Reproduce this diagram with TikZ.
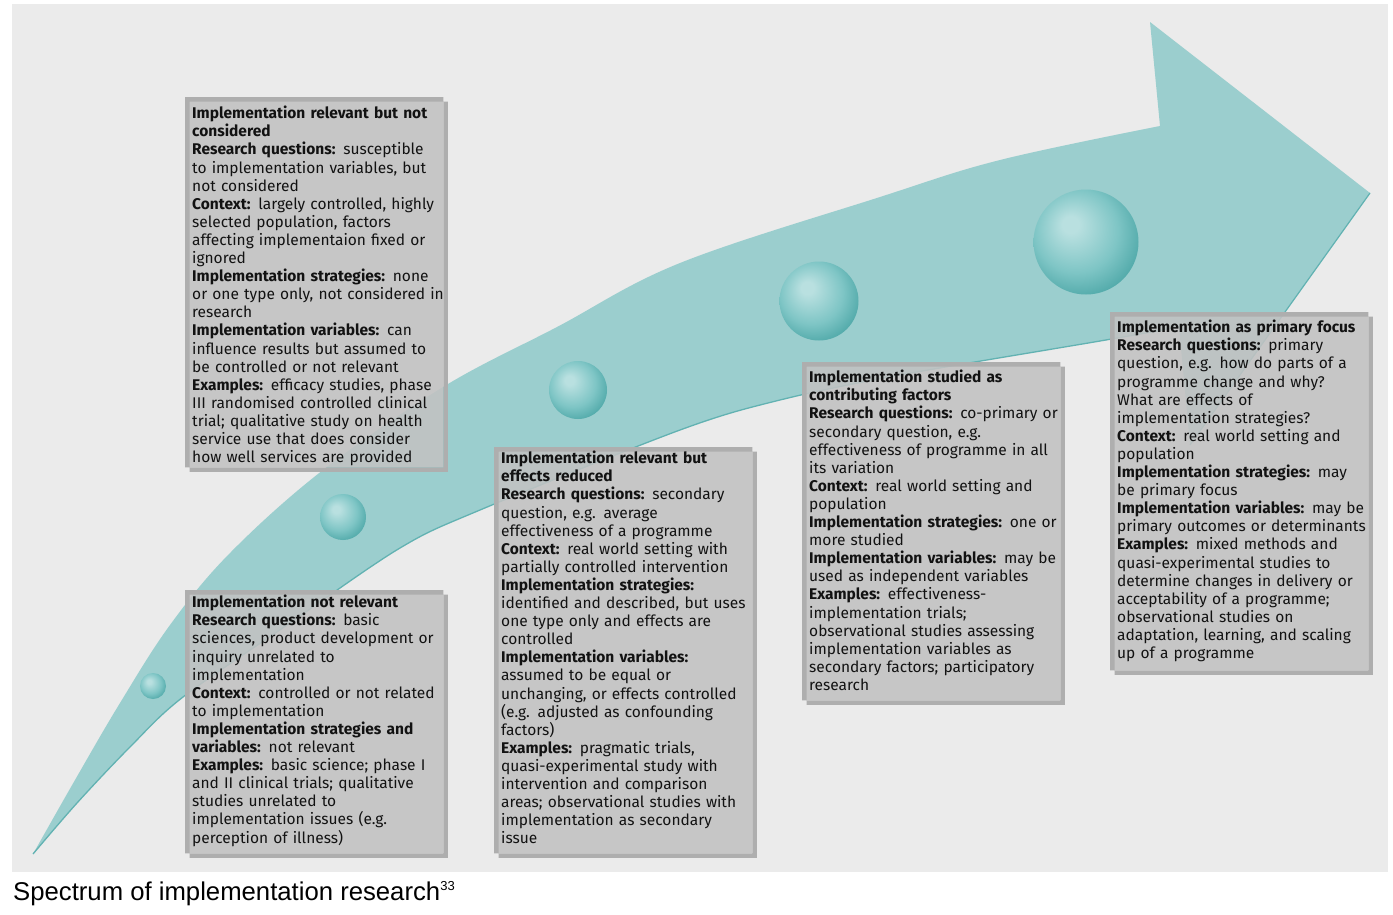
\documentclass[tikz,border=0pt]{standalone}
\usepackage{fontspec}
\setmainfont{Fira Sans}
\newfontfamily\capfont{Liberation Sans}
\usetikzlibrary{calc}
\definecolor{panel}{HTML}{EBEBEB}
\definecolor{band}{HTML}{9BCECE}
\definecolor{bandedge}{HTML}{62B2B2}
\definecolor{boxc}{HTML}{C2C2C2}
\definecolor{shad}{HTML}{AEAEAE}
\definecolor{sphL}{HTML}{B9E0E0}
\definecolor{sphM}{HTML}{7EC5C5}
\definecolor{sphD}{HTML}{45A2A2}
\definecolor{txt}{HTML}{121212}
\pgfdeclareradialshading{sphere}{\pgfpoint{-8bp}{9bp}}{color(0bp)=(sphL); color(4bp)=(sphL); color(20bp)=(sphM); color(33bp)=(sphD); color(50bp)=(sphD)}
\pgfdeclarelayer{bg}\pgfdeclarelayer{boxbg}\pgfsetlayers{bg,boxbg,main}
\newcommand{\hd}[1]{\textbf{#1}}
\begin{document}
\begin{tikzpicture}[x=1pt,y=-1pt,
  infotext/.style={anchor=north west, align=left, inner sep=0pt,
    text width=275pt, text=txt, font=\fontsize{15.5}{18.1}\selectfont},
  boxshape/.style={anchor=north west, rectangle, inner sep=0pt, fill=boxc, fill opacity=0.88},
  ball/.style={circle, inner sep=0pt, shading=sphere, minimum size=#1}]
\useasboundingbox (0,0) rectangle (1393,914);

% texts
\node[infotext] (t1) at (192,106) {%
\hd{Implementation relevant but not}\\
\hd{considered}\\
\hd{Research questions:} susceptible\\
to implementation variables, but\\
not considered\\
\hd{Context:} largely controlled, highly\\
selected population, factors\\
affecting implementaion fixed or\\
ignored\\
\hd{Implementation strategies:} none\\
or one type only, not considered in\\
research\\
\hd{Implementation variables:} can\\
influence results but assumed to\\
be controlled or not relevant\\
\hd{Examples:} efficacy studies, phase\\
III randomised controlled clinical\\
trial; qualitative study on health\\
service use that does consider\\
how well services are provided};

\node[infotext] (t2) at (192,595) {%
\hd{Implementation not relevant}\\
\hd{Research questions:} basic\\
sciences, product development or\\
inquiry unrelated to\\
implementation\\
\hd{Context:} controlled or not related\\
to implementation\\
\hd{Implementation strategies and}\\
\hd{variables:} not relevant\\
\hd{Examples:} basic science; phase I\\
and II clinical trials; qualitative\\
studies unrelated to\\
implementation issues (e.g.\\
perception of illness)};

\node[infotext] (t3) at (501,451) {%
\hd{Implementation relevant but}\\
\hd{effects reduced}\\
\hd{Research questions:} secondary\\
question, e.g. average\\
effectiveness of a programme\\
\hd{Context:} real world setting with\\
partially controlled intervention\\
\hd{Implementation strategies:}\\
identified and described, but uses\\
one type only and effects are\\
controlled\\
\hd{Implementation variables:}\\
assumed to be equal or\\
unchanging, or effects controlled\\
(e.g. adjusted as confounding\\
factors)\\
\hd{Examples:} pragmatic trials,\\
quasi-experimental study with\\
intervention and comparison\\
areas; observational studies with\\
implementation as secondary\\
issue};

\node[infotext] (t4) at (809,370) {%
\hd{Implementation studied as}\\
\hd{contributing factors}\\
\hd{Research questions:} co-primary or\\
secondary question, e.g.\\
effectiveness of programme in all\\
its variation\\
\hd{Context:} real world setting and\\
population\\
\hd{Implementation strategies:} one or\\
more studied\\
\hd{Implementation variables:} may be\\
used as independent variables\\
\hd{Examples:} effectiveness-\\
implementation trials;\\
observational studies assessing\\
implementation variables as\\
secondary factors; participatory\\
research};

\node[infotext] (t5) at (1117,320) {%
\hd{Implementation as primary focus}\\
\hd{Research questions:} primary\\
question, e.g. how do parts of a\\
programme change and why?\\
What are effects of\\
implementation strategies?\\
\hd{Context:} real world setting and\\
population\\
\hd{Implementation strategies:} may\\
be primary focus\\
\hd{Implementation variables:} may be\\
primary outcomes or determinants\\
\hd{Examples:} mixed methods and\\
quasi-experimental studies to\\
determine changes in delivery or\\
acceptability of a programme;\\
observational studies on\\
adaptation, learning, and scaling\\
up of a programme};

\node[anchor=base west, inner sep=0pt, font=\capfont\fontsize{25.7}{30}\selectfont] (cap) at (13,900)
  {Spectrum of implementation research\raisebox{9.5pt}{\fontsize{13}{13}\selectfont 33}};

% boxes and shadows
\begin{pgfonlayer}{boxbg}
\node[boxshape, minimum width=258pt, minimum height=370pt] (b1) at (185,97) {};
\node[boxshape, minimum width=258pt, minimum height=263pt] (b2) at (185,590) {};
\node[boxshape, minimum width=258pt, minimum height=406pt] (b3) at (494,447) {};
\node[boxshape, minimum width=258pt, minimum height=338pt] (b4) at (802,362) {};
\node[boxshape, minimum width=258pt, minimum height=358pt] (b5) at (1110,312) {};
\foreach \b in {b1,b2,b3,b4,b5}{
  \fill[shad, even odd rule] ($(\b.north west)+(4.5,4.5)$) rectangle ($(\b.south east)+(4.5,4.5)$)
        (\b.north west) rectangle (\b.south east);
}
\end{pgfonlayer}

% background, arrow, spheres
\begin{pgfonlayer}{bg}
\fill[panel] (12,4) rectangle (1388,872);
\coordinate (tail) at (33,854);
\coordinate (barbU) at (1150,22);
\coordinate (tip) at (1370,193);
\coordinate (barbL) at (1190,445);
\fill[band] plot[smooth, tension=0.6] coordinates {(33,854) (75,780) (120,703) (170,625) (230,553) (323,470) (443,387) (557,327) (680,263) (880,197) (1000,160) (1160,126)}
  -- (barbU) -- (tip) -- (barbL) --
  plot[smooth, tension=0.55] coordinates {(1179,327) (1100,341) (900,375) (780,400) (680,430) (480,510) (400,548) (290,623) (183,697) (130,747) (77,803) (33,854)} -- cycle;
\draw[bandedge, line width=1.2pt, line join=round] (tip) -- (barbL);
\draw[bandedge, line width=1.3pt] plot[smooth, tension=0.55] coordinates {(1179,327) (1100,341) (900,375) (780,400) (680,430) (480,510) (400,548) (290,623) (183,697) (130,747) (77,803) (33,854)};
\node[ball=26pt] (s1) at (153,686) {};
\node[ball=46pt] (s2) at (343,517) {};
\node[ball=58pt] (s3) at (578,390) {};
\node[ball=79pt] (s4) at (819,301) {};
\node[ball=105pt] (s5) at (1086,242) {};
\end{pgfonlayer}
\end{tikzpicture}
\end{document}
